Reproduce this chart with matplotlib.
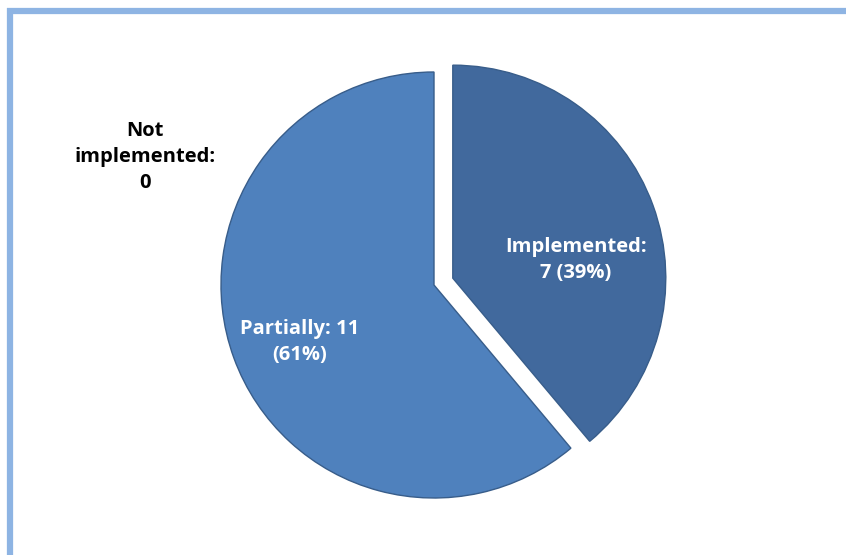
import matplotlib.pyplot as plt
from matplotlib.lines import Line2D

categories = ['Implemented', 'Partially', 'Not implemented']
counts = [7, 11, 0]
colors = ['#41699D', '#4F81BD', '#4F81BD']

total = sum(counts)
pcts = [round(100 * c / total) for c in counts]

W, H = 846, 555
fig = plt.figure(figsize=(W / 100, H / 100), dpi=100)
ax = fig.add_axes([0, 0, 1, 1])

# pie in pixel coordinates (y up); explode is in data units here
cx, cy, r = 434, H - 285, 213
wedges, _ = ax.pie(counts, colors=colors, startangle=90, counterclock=False,
                   center=(cx, cy), radius=r, explode=[20, 0, 0],
                   wedgeprops=dict(edgecolor='#385D8A', linewidth=1.0))
wedges[2].set_linewidth(0)

ax.set_xlim(0, W)
ax.set_ylim(0, H)
ax.set_aspect('equal')
ax.axis('off')

font = dict(family=['Open Sans', 'DejaVu Sans'], fontweight='bold', fontsize=14.5,
            ha='center', va='center', linespacing=1.4)
ax.text(576, H - 260, f'{categories[0]}:\n{counts[0]} ({pcts[0]}%)', color='white', **font)
ax.text(300, H - 342, f'{categories[1]}: {counts[1]}\n({pcts[1]}%)', color='white', **font)
ax.text(145, H - 157, 'Not\nimplemented:\n' + str(counts[2]), color='black', **font)

# light blue frame along top and left edges
frame = dict(color='#8EB4E3', linewidth=4.5, solid_capstyle='butt')
fig.add_artist(Line2D([7 / W, 1], [1 - 10.5 / H] * 2, transform=fig.transFigure, **frame))
fig.add_artist(Line2D([9.5 / W] * 2, [0, 1 - 8 / H], transform=fig.transFigure, **frame))

fig.savefig('out.png', dpi=100, facecolor='white')
